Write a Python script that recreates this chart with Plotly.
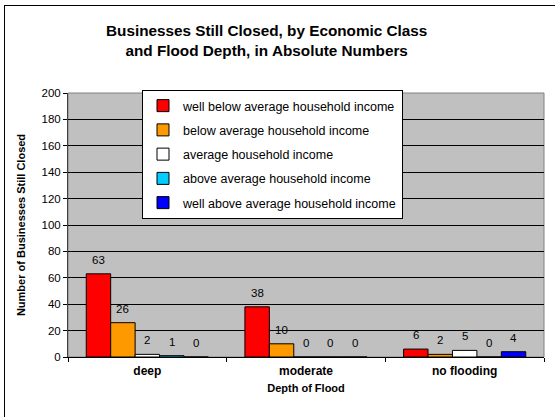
import plotly.graph_objects as go

categories = ["deep", "moderate", "no flooding"]
series_names = [
    "well below average household income",
    "below average household income",
    "average household income",
    "above average household income",
    "well above average household income",
]
series_values = [
    [63, 38, 6],
    [26, 10, 2],
    [2, 0, 5],
    [1, 0, 0],
    [0, 0, 4],
]
series_colors = ["#FF0000", "#FF9900", "#FFFFFF", "#00CCFF", "#0000FF"]
y_ticks = [0, 20, 40, 60, 80, 100, 120, 140, 160, 180, 200]

FONT = "Liberation Sans, Arial, sans-serif"
W, H = 555, 417
ML, MR, MT, MB = 68, 11, 93, 60
PW = W - ML - MR
PH = H - MT - MB

fig = go.Figure()
for i, (name, vals, col) in enumerate(zip(series_names, series_values, series_colors)):
    fig.add_trace(go.Bar(
        x=categories, y=vals, name=name,
        marker=dict(color=col, line=dict(color="black", width=1)),
        legendgroup=f"g{i}",
    ))

bargap = 0.23
n = len(series_names)
bw = (1 - bargap) / n
annotations = []
for i, vals in enumerate(series_values):
    for j, v in enumerate(vals):
        xpos = j - (1 - bargap) / 2 + bw * (i + 0.5)
        annotations.append(dict(
            x=xpos, y=v, xref="x", yref="y", text=str(v), showarrow=False,
            yanchor="bottom", yshift=6, font=dict(family=FONT, size=11.5, color="black"),
        ))

def px2paper_x(px):
    return (px - ML) / PW

def px2paper_y(py):
    return 1 - (py - MT) / PH

annotations.append(dict(
    x=px2paper_x(266), y=px2paper_y(40), xref="paper", yref="paper",
    text="<b>Businesses Still Closed, by Economic Class<br>and Flood Depth, in Absolute Numbers</b>",
    showarrow=False, xanchor="center", yanchor="middle",
    font=dict(family=FONT, size=15.3, color="black"),
))

fig.update_layout(
    width=W, height=H,
    margin=dict(l=ML, r=MR, t=MT, b=MB),
    paper_bgcolor="white", plot_bgcolor="#C0C0C0",
    barmode="group", bargap=bargap, bargroupgap=0,
    font=dict(family=FONT, size=11, color="black"),
    showlegend=True,
    legend=dict(
        x=px2paper_x(142), y=px2paper_y(90), xanchor="left", yanchor="top",
        bgcolor="white", bordercolor="black", borderwidth=1,
        font=dict(family=FONT, size=12.5, color="black"),
        tracegroupgap=5, traceorder="grouped", itemwidth=30,
    ),
    annotations=annotations,
    shapes=[
        dict(type="rect", xref="paper", yref="paper", x0=0, x1=1, y0=0, y1=1,
             line=dict(color="#808080", width=1), fillcolor="rgba(0,0,0,0)", layer="below"),
        dict(type="line", xref="paper", yref="paper",
             x0=px2paper_x(4.5), x1=px2paper_x(4.5), y0=px2paper_y(5), y1=px2paper_y(430),
             line=dict(color="black", width=1)),
        dict(type="line", xref="paper", yref="paper",
             x0=px2paper_x(4.5), x1=px2paper_x(570), y0=px2paper_y(5.5), y1=px2paper_y(5.5),
             line=dict(color="black", width=1)),
    ],
)
fig.update_xaxes(
    type="category", showgrid=False, showline=True, linecolor="black", linewidth=1,
    ticks="outside", tickson="boundaries", ticklen=4, tickcolor="black",
    tickfont=dict(family=FONT, size=12, color="black"),
    ticklabelstandoff=3,
    title=dict(text="<b>Depth of Flood</b>", font=dict(family=FONT, size=11, color="black"), standoff=6),
)
fig.update_xaxes(tickvals=categories, ticktext=[f"<b>{c}</b>" for c in categories])
fig.update_yaxes(
    range=[0, 200], tickvals=y_ticks, showgrid=True, gridcolor="black", gridwidth=1,
    showline=True, linecolor="#404040", linewidth=1, zeroline=False,
    ticks="outside", ticklen=4, tickcolor="black",
    tickfont=dict(family=FONT, size=11.5, color="black"),
    title=dict(text="<b>Number of Businesses Still Closed</b>", font=dict(family=FONT, size=11, color="black"), standoff=13),
)
fig.write_html("out.html")
